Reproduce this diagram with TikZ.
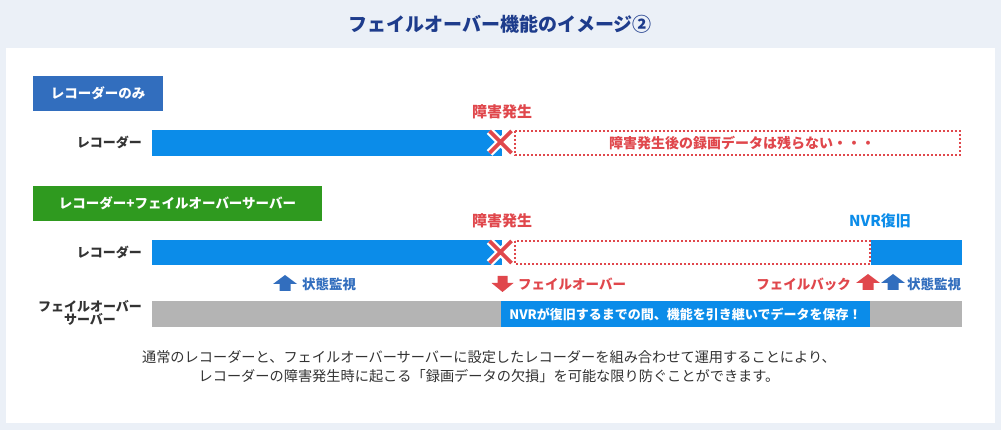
\documentclass[tikz,border=0pt]{standalone}
\usepackage{fontspec}
\setmainfont{Noto Sans CJK JP}
\usetikzlibrary{positioning,calc}
\definecolor{bgblue}{HTML}{EBF0F7}
\definecolor{navy}{HTML}{1E3C8C}
\definecolor{tagblue}{HTML}{326EBE}
\definecolor{taggreen}{HTML}{2F9A1F}
\definecolor{barblue}{HTML}{0B8CE9}
\definecolor{errred}{HTML}{E0474C}
\definecolor{bargray}{HTML}{B4B4B4}
\definecolor{txtgray}{HTML}{333333}
\tikzset{
  fs/.style={font=\fontsize{#1pt}{#1pt}\selectfont},
  bfs/.style={font=\fontsize{#1pt}{#1pt}\selectfont\bfseries},
  tag/.style={fill=#1, text=white, inner sep=0, bfs=13.5},
  rowlabel/.style={anchor=east, text=txtgray, inner sep=0, bfs=13},
  bar/.style={fill=barblue, draw=none},
  lostbox/.style={draw=errred, line width=2pt, dash pattern=on 2pt off 2pt},
  redtxt/.style={text=errred, inner sep=0, bfs=15},
  smallred/.style={text=errred, inner sep=0, bfs=13.5},
  smallblue/.style={text=tagblue, inner sep=0, bfs=13.5},
  xout/.style={white, line width=8pt},
  xin/.style={errred, line width=3.8pt},
  pics/uparrow/.style={code={\fill[#1] (-12,-7) -- (0,-16) -- (12,-7) -- (5.5,-7) -- (5.5,0) -- (-5.5,0) -- (-5.5,-7) -- cycle;}},
  pics/downarrow/.style={code={\fill[#1] (-11,7) -- (0,16) -- (11,7) -- (5,7) -- (5,0) -- (-5,0) -- (-5,7) -- cycle;}},
}
\begin{document}
\begin{tikzpicture}[x=1pt,y=-1pt]
\useasboundingbox (0,0) rectangle (1001,430);
\fill[bgblue] (0,0) rectangle (1001,430);
\fill[white] (6,48) rectangle (995,423);
\node[text=navy, inner sep=0, bfs=19] (title) at (500,24) {フェイルオーバー機能のイメージ②};

% section 1
\node[tag=tagblue, minimum width=130pt, minimum height=35pt] (tag1) at (98,93.5) {レコーダーのみ};
\node[redtxt] (fail1) at (502,112) {障害発生};
\node[rowlabel] (rec1) at (142,142) {レコーダー};
\fill[bar] (152,130) rectangle (502,156);
\draw[lostbox] (515,131) rectangle (960,155);
\node[smallred, bfs=14] (lost) at (742,143) {障害発生後の録画データは残らない・・・};
\coordinate (x1) at (500.5,142);
\draw[xout] ($(x1)+(-11,-11)$) -- ($(x1)+(11,11)$) ($(x1)+(11,-11)$) -- ($(x1)+(-11,11)$);
\draw[xin] ($(x1)+(-11,-11)$) -- ($(x1)+(11,11)$) ($(x1)+(11,-11)$) -- ($(x1)+(-11,11)$);

% section 2
\node[tag=taggreen, minimum width=289pt, minimum height=35pt] (tag2) at (177.5,203.5) {レコーダー+フェイルオーバーサーバー};
\node[redtxt] (fail2) at (502,221) {障害発生};
\node[text=barblue, inner sep=0, bfs=15] (nvr) at (880,221) {NVR復旧};
\node[rowlabel] (rec2) at (142,252) {レコーダー};
\fill[bar] (152,240) rectangle (502,265);
\draw[lostbox] (515,241) rectangle (870,264);
\fill[bar] (871,240) rectangle (962,265);
\coordinate (x2) at (500.5,252);
\draw[xout] ($(x2)+(-11,-11)$) -- ($(x2)+(11,11)$) ($(x2)+(11,-11)$) -- ($(x2)+(-11,11)$);
\draw[xin] ($(x2)+(-11,-11)$) -- ($(x2)+(11,11)$) ($(x2)+(11,-11)$) -- ($(x2)+(-11,11)$);

% arrows row
\pic at (285,291) {uparrow=tagblue};
\node[smallblue, anchor=west] (mon1) at (302,284) {状態監視};
\pic at (502.5,276) {downarrow=errred};
\node[smallred, anchor=west] (fo) at (518,284) {フェイルオーバー};
\node[smallred, anchor=east] (fb) at (851,284) {フェイルバック};
\pic at (868,290) {uparrow=errred};
\pic at (893,290) {uparrow=tagblue};
\node[smallblue, anchor=west] (mon2) at (907,284) {状態監視};

% failover server row
\node[rowlabel, anchor=center, align=center] (fos) at (90,313) {フェイルオーバー\\サーバー};
\fill[bargray] (152,301) rectangle (962,327);
\node[fill=barblue, text=white, inner sep=0, minimum width=369pt, minimum height=26pt, bfs=13] (keep) at (685.5,314) {NVRが復旧するまでの間、機能を引き継いでデータを保存！};

% footer
\node[text=txtgray, inner sep=0, align=center, fs=14.2] (foot) at (489,367) {通常のレコーダーと、フェイルオーバーサーバーに設定したレコーダーを組み合わせて運用することにより、\\[5pt]レコーダーの障害発生時に起こる「録画データの欠損」を可能な限り防ぐことができます。};
\end{tikzpicture}
\end{document}
